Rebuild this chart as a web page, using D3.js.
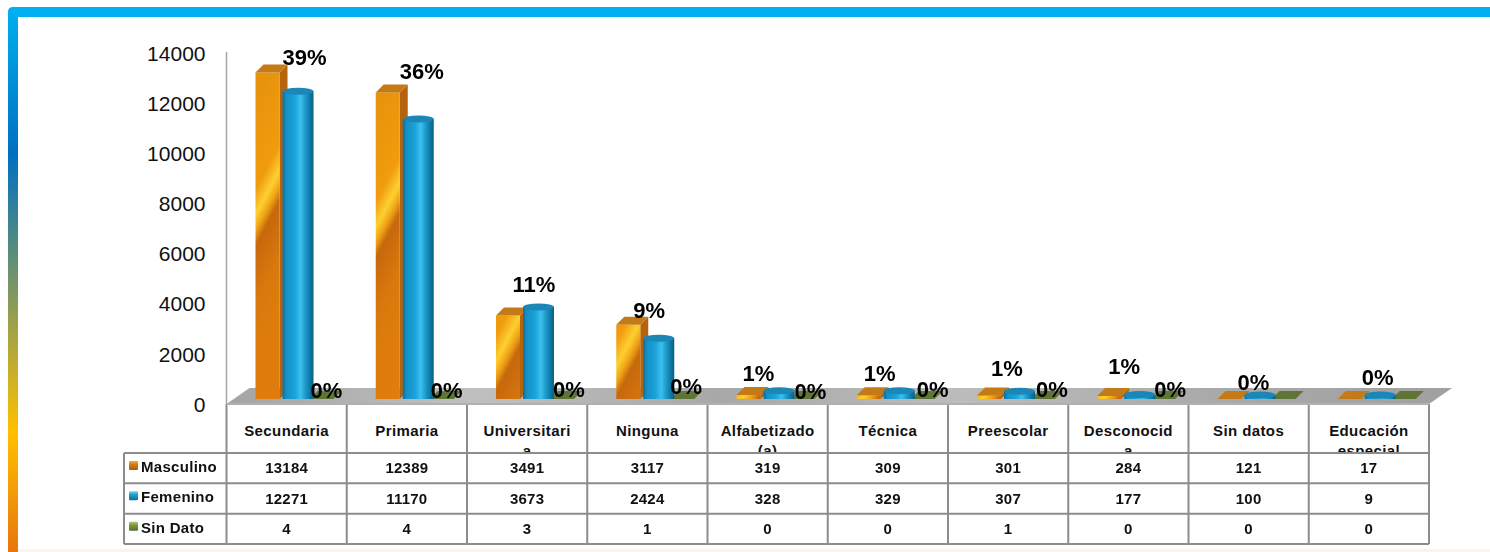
<!DOCTYPE html>
<html>
<head>
<meta charset="utf-8">
<script src="https://cdn.jsdelivr.net/npm/d3@7"></script>
<style>
html, body { margin: 0; padding: 0; background: #fff; }
svg { display: block; font-family: "Liberation Sans", Arial, sans-serif; }
</style>
</head>
<body>
<script>
var width = 1490, height = 552;

var categories = ["Secundaria", "Primaria", "Universitaria", "Ninguna", "Alfabetizado (a)", "Técnica", "Preescolar", "Desconocida", "Sin datos", "Educación especial"];
var categoryLines = [["Secundaria"], ["Primaria"], ["Universitari", "a"], ["Ninguna"], ["Alfabetizado", "(a)"], ["Técnica"], ["Preescolar"], ["Desconocid", "a"], ["Sin datos"], ["Educación", "especial"]];
var masculino = [13184, 12389, 3491, 3117, 319, 309, 301, 284, 121, 17];
var femenino = [12271, 11170, 3673, 2424, 328, 329, 307, 177, 100, 9];
var sinDato = [4, 4, 3, 1, 0, 0, 1, 0, 0, 0];
var seriesNames = ["Masculino", "Femenino", "Sin Dato"];
var topLabels = ["39%", "36%", "11%", "9%", "1%", "1%", "1%", "1%", "0%", "0%"];
var sinDatoLabels = ["0%", "0%", "0%", "0%", "0%", "0%", "0%", "0%"];
var yTicks = [0, 2000, 4000, 6000, 8000, 10000, 12000, 14000];

// label placement relative to the band and the orange bar top
var topLabelDx = [78, 75, 67, 62, 51, 52, 59, 56, 65, 69];
var topLabelDy = [-15, -21, -31, -15, -22, -22, -27, -30, -18, -25];
var sinDatoDx = [100, 100, 102, 99, 103, 105, 104, 102];
var sinDatoY = [390, 390, 389, 386, 391, 389, 389, 389];

var svg = d3.select("body").append("svg")
    .attr("width", width)
    .attr("height", height);

var defs = svg.append("defs");

function gradient(id, x2, y2, stops) {
    var g = defs.append("linearGradient").attr("id", id)
        .attr("x1", 0).attr("y1", 0).attr("x2", x2).attr("y2", y2);
    stops.forEach(function(s) {
        g.append("stop").attr("offset", s[0]).attr("stop-color", s[1]);
    });
}

gradient("frameLeft", 0, 1, [[0, "#00b0f0"], [0.27, "#0070c0"], [0.78, "#ffc000"], [1, "#e8760f"]]);
gradient("floor", 1, 0, [[0, "#a4a4a4"], [0.2, "#c0c0c0"], [0.4, "#a8a8a8"], [0.6, "#bcbcbc"], [0.8, "#aaaaaa"], [1, "#a0a0a0"]]);
gradient("blueFront", 1, 0, [[0, "#0f6f9c"], [0.12, "#1390c6"], [0.4, "#1ba3da"], [0.58, "#3cc0ee"], [0.78, "#1590c2"], [1, "#0d5f80"]]);
gradient("greenFront", 1, 0, [[0, "#5c7a2c"], [0.5, "#8aa84c"], [1, "#4c6626"]]);
gradient("orangeSwatch", 0, 1, [[0, "#f0b040"], [0.4, "#d07c10"], [1, "#a85e10"]]);
gradient("blueSwatch", 0, 1, [[0, "#70d0ee"], [0.4, "#1d9cce"], [1, "#14708f"]]);
gradient("greenSwatch", 0, 1, [[0, "#b0cc70"], [0.4, "#7c9a3c"], [1, "#566e2c"]]);

var soften = defs.append("filter").attr("id", "soften");
soften.append("feGaussianBlur").attr("stdDeviation", 0.5);

// frame
svg.append("path")
    .attr("d", "M8,552V12Q8,7 13,7H" + width + "V17H18V552Z")
    .attr("fill", "url(#frameLeft)");
svg.append("rect").attr("x", 13).attr("y", 7).attr("width", width - 13).attr("height", 10).attr("fill", "#00b0f0");
svg.append("rect").attr("x", 18).attr("y", 549).attr("width", width - 18).attr("height", 3).attr("fill", "#fbf3ec");

var tableLeft = 226.5, tableRight = 1429;
var x = d3.scaleBand().domain(categories).range([tableLeft, tableRight]);
var xSeries = d3.scaleBand().domain(seriesNames).range([29, 110]);
var y = d3.scaleLinear().domain([0, 14000]).range([403, 52]);
var rowY = d3.scaleBand().domain(seriesNames).range([453, 544]);

// floor and wall line
var floorBottom = 404, floorTop = 388, depth = 23;
svg.append("polygon")
    .attr("points", [[tableLeft, floorBottom], [tableLeft + depth, floorTop], [tableRight + depth, floorTop], [tableRight, floorBottom]].join(" "))
    .attr("fill", "url(#floor)");
svg.append("line").attr("x1", tableLeft).attr("x2", tableLeft).attr("y1", 52).attr("y2", floorBottom)
    .attr("stroke", "#a6a6a6").attr("stroke-width", 1.5);

// y axis
var yAxis = d3.axisLeft(y).tickValues(yTicks).tickFormat(d3.format("d")).tickSize(0).tickPadding(21);
var yAxisG = svg.append("g").attr("transform", "translate(" + tableLeft + ",1.5)").call(yAxis);
yAxisG.select(".domain").remove();
yAxisG.selectAll("text").attr("font-size", 21).attr("font-family", "Liberation Sans").attr("fill", "#111");

// bars
var barBase = 399, dx = 8, dy = 8;
var bars = svg.append("g").attr("filter", "url(#soften)");

function barGroups(values, name) {
    return bars.append("g").selectAll("g").data(values).enter().append("g")
        .attr("transform", function(d, i) { return "translate(" + (x(categories[i]) + xSeries(name)) + ",0)"; });
}

// square bars: front face, side and top
function drawBoxes(values, name, front, side, top) {
    var w = 24;
    var g = barGroups(values, name);
    g.append("polygon").attr("fill", side).attr("points", function(d) {
        var t = Math.min(y(d), barBase);
        return [[w, barBase], [w + dx, barBase - dy], [w + dx, t - dy], [w, t]].join(" ");
    });
    g.append("rect").attr("fill", front).attr("x", 0).attr("width", w)
        .attr("y", function(d) { return Math.min(y(d), barBase); })
        .attr("height", function(d) { return Math.max(barBase - y(d), 0); });
    g.append("polygon").attr("fill", top).attr("points", function(d) {
        var t = Math.min(y(d), barBase);
        return [[0, t], [dx, t - dy], [w + dx, t - dy], [w, t]].join(" ");
    });
}

// round bars for the blue series
function drawRound(values, name) {
    var w = 31;
    var g = barGroups(values, name);
    g.append("rect").attr("fill", "url(#blueFront)").attr("x", 0).attr("width", w)
        .attr("y", function(d) { return Math.min(y(d), barBase) - 4; })
        .attr("height", function(d) { return Math.max(barBase - y(d), 0) + 4; });
    g.append("ellipse").attr("fill", "#1a86b6").attr("cx", w / 2).attr("rx", w / 2).attr("ry", 3.5)
        .attr("cy", function(d) { return Math.min(y(d), barBase) - 4; });
}

// orange bars get a slanted highlight, one gradient for each bar height
masculino.forEach(function(d, i) {
    var stripe = y(d) + (barBase - y(d)) * 0.4;
    var g = defs.append("linearGradient").attr("id", "orange" + i)
        .attr("gradientUnits", "userSpaceOnUse")
        .attr("x1", 12 - 53).attr("y1", stripe - 28)
        .attr("x2", 12 + 53).attr("y2", stripe + 28);
    [[0, "#e8930a"], [0.36, "#f09c10"], [0.46, "#fdd030"], [0.52, "#f0a418"], [0.58, "#c6680a"], [0.8, "#d8780a"], [1, "#de7c08"]].forEach(function(s) {
        g.append("stop").attr("offset", s[0]).attr("stop-color", s[1]);
    });
});

drawBoxes(sinDato, "Sin Dato", "url(#greenFront)", "#4f6428", "#5f7434");
drawBoxes(masculino, "Masculino", "#de7c08", "#b5640a", "#c47a12");
bars.selectAll("rect").filter(function(d) { return masculino.indexOf(d) >= 0; })
    .attr("fill", function(d) { return "url(#orange" + masculino.indexOf(d) + ")"; });
drawRound(femenino, "Femenino");

// percent labels
svg.append("g").selectAll("text").data(topLabels).enter().append("text")
    .attr("x", function(d, i) { return x(categories[i]) + topLabelDx[i]; })
    .attr("y", function(d, i) { return y(masculino[i]) + topLabelDy[i]; })
    .attr("dy", "0.35em")
    .attr("text-anchor", "middle")
    .attr("font-size", 22).attr("font-weight", "bold").attr("fill", "#000")
    .text(function(d) { return d; });
svg.append("g").selectAll("text").data(sinDatoLabels).enter().append("text")
    .attr("x", function(d, i) { return x(categories[i]) + sinDatoDx[i]; })
    .attr("y", function(d, i) { return sinDatoY[i]; })
    .attr("dy", "0.35em")
    .attr("text-anchor", "middle")
    .attr("font-size", 22).attr("font-weight", "bold").attr("fill", "#000")
    .text(function(d) { return d; });

// data table
defs.append("clipPath").attr("id", "headerClip").append("rect")
    .attr("x", tableLeft).attr("y", floorBottom).attr("width", tableRight - tableLeft).attr("height", 453 - floorBottom);

var table = svg.append("g");
var catText = table.append("g").attr("clip-path", "url(#headerClip)")
    .selectAll("g").data(categoryLines).enter().append("g");
catText.each(function(lines, i) {
    d3.select(this).selectAll("text").data(lines).enter().append("text")
        .attr("x", x(categories[i]) + x.bandwidth() / 2)
        .attr("y", function(d, j) { return 436 + j * 20; })
        .attr("text-anchor", "middle")
        .attr("font-size", 15).attr("font-weight", "bold").attr("letter-spacing", 0.4).attr("fill", "#111")
        .text(function(d) { return d; });
});

[masculino, femenino, sinDato].forEach(function(values, r) {
    var ry = rowY(seriesNames[r]) + rowY.bandwidth() / 2 + 5;
    table.append("g").selectAll("text").data(values).enter().append("text")
        .attr("x", function(d, i) { return x(categories[i]) + x.bandwidth() / 2; })
        .attr("y", ry)
        .attr("text-anchor", "middle")
        .attr("font-size", 15).attr("font-weight", "bold").attr("letter-spacing", 0.2).attr("fill", "#111")
        .text(function(d) { return d; });
});

var swatch = ["url(#orangeSwatch)", "url(#blueSwatch)", "url(#greenSwatch)"];
seriesNames.forEach(function(name, r) {
    var top = rowY(name);
    table.append("rect").attr("x", 129).attr("y", top + 8).attr("width", 9).attr("height", 9).attr("rx", 1).attr("fill", swatch[r]);
    table.append("text").attr("x", 141).attr("y", top + 19)
        .attr("font-size", 15).attr("font-weight", "bold").attr("letter-spacing", 0.3).attr("fill", "#111").text(name);
});

// grid lines of the table
var grid = table.append("g").attr("stroke", "#8c8c8c").attr("stroke-width", 2);
seriesNames.concat("end").forEach(function(name) {
    var ly = name === "end" ? 544 : rowY(name);
    grid.append("line").attr("x1", 124).attr("x2", tableRight).attr("y1", ly).attr("y2", ly);
});
categories.concat("end").forEach(function(c) {
    var lx = c === "end" ? tableRight : x(c);
    grid.append("line").attr("x1", lx).attr("x2", lx).attr("y1", floorBottom).attr("y2", 544);
});
grid.append("line").attr("x1", 124).attr("x2", 124).attr("y1", 453).attr("y2", 544);
grid.append("line").attr("x1", tableLeft).attr("x2", tableRight).attr("y1", floorBottom).attr("y2", floorBottom).attr("stroke", "#b0b0b0");
</script>
</body>
</html>
